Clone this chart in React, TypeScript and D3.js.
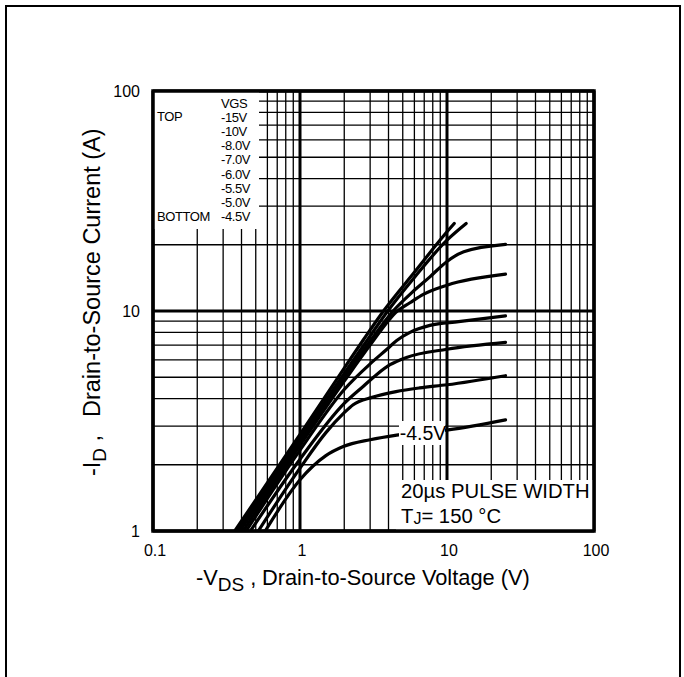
import { useEffect, useRef } from "react";
import * as d3 from "d3";

// -VDS (V), -ID (A) pairs
const curve15V: [number, number][] = [[0.36, 1], [1, 2.75], [2, 5.5], [2.7, 7.4], [3.7, 10], [6, 15], [10, 22.9], [11.2, 25]];
const curve10V: [number, number][] = [[0.375, 1], [1, 2.65], [2, 5.2], [3, 7.7], [4, 10.1], [6, 14.2], [10, 21], [13.5, 25]];
const curve8V: [number, number][] = [[0.39, 1], [1, 2.55], [2, 5.0], [3, 7.3], [4.3, 10], [5.9, 12.3], [7.65, 14.3], [10, 16.8], [13, 18.6], [25, 20.1]];
const curve7V: [number, number][] = [[0.41, 1], [1, 2.45], [2, 4.8], [3, 7.0], [4.6, 10], [5.6, 10.9], [6.9, 11.9], [10, 13.1], [25, 14.7]];
const curve6V: [number, number][] = [[0.43, 1], [1, 2.33], [2, 4.4], [3, 5.75], [3.9, 6.7], [4.55, 7.35], [5.6, 8.0], [7.65, 8.6], [12, 8.95], [25, 9.5]];
const curve55V: [number, number][] = [[0.46, 1], [1, 2.12], [2, 3.8], [2.7, 4.55], [3.33, 5.15], [4.1, 5.7], [5.3, 6.15], [10, 6.7], [25, 7.2]];
const curve5V: [number, number][] = [[0.52, 1], [1, 1.93], [1.5, 2.8], [2, 3.45], [2.3, 3.75], [3.1, 4.05], [4.5, 4.3], [6.5, 4.47], [10, 4.62], [25, 5.08]];
const curve45V: [number, number][] = [[0.58, 1], [1, 1.71], [1.5, 2.2], [1.97, 2.42], [3, 2.6], [4.55, 2.73], [10.2, 2.88], [25, 3.2]];

const curves = [curve15V, curve10V, curve8V, curve7V, curve6V, curve55V, curve5V, curve45V];

const vgsLabels = ["-15V", "-10V", "-8.0V", "-7.0V", "-6.0V", "-5.5V", "-5.0V", "-4.5V"];
const xTicks = [0.1, 1, 10, 100];
const xTickLabels = ["0.1", "1", "10", "100"];
const yTicks = [1, 10, 100];
const yTickLabels = ["1", "10", "100"];

const FONT = "'Liberation Sans', Arial, Helvetica, sans-serif";

export default function App() {
  const ref = useRef<SVGSVGElement>(null);

  useEffect(() => {
    if (!ref.current) return;
    const svg = d3.select(ref.current);
    svg.selectAll("*").remove();

    const left = 153, right = 594, top = 91, bottom = 531;
    const x = d3.scaleLog().domain([0.1, 100]).range([left, right]);
    const y = d3.scaleLog().domain([1, 100]).range([bottom, top]);

    // outer page border
    svg.append("rect")
      .attr("x", 6).attr("y", 6).attr("width", 674).attr("height", 720)
      .attr("fill", "none").attr("stroke", "#000").attr("stroke-width", 2);

    const isDecade = (v: number) => Math.abs(Math.log10(v) - Math.round(Math.log10(v))) < 1e-6;

    const grid = svg.append("g");
    x.ticks().forEach((v) => {
      grid.append("line")
        .attr("x1", x(v)).attr("x2", x(v)).attr("y1", top).attr("y2", bottom)
        .attr("stroke", "#000").attr("stroke-width", isDecade(v) ? 3 : 1.3);
    });
    y.ticks().forEach((v) => {
      grid.append("line")
        .attr("x1", left).attr("x2", right).attr("y1", y(v)).attr("y2", y(v))
        .attr("stroke", "#000").attr("stroke-width", isDecade(v) ? 3 : 1.3);
    });

    svg.append("clipPath").attr("id", "plot-clip")
      .append("rect").attr("x", left).attr("y", top)
      .attr("width", right - left).attr("height", bottom - top);

    const line = d3.line<[number, number]>()
      .x((d) => x(d[0]))
      .y((d) => y(d[1]))
      .curve(d3.curveMonotoneX);

    svg.append("g").attr("clip-path", "url(#plot-clip)")
      .selectAll("path")
      .data(curves)
      .enter()
      .append("path")
      .attr("d", (d) => line(d) || "")
      .attr("fill", "none")
      .attr("stroke", "#000")
      .attr("stroke-width", 3.2)
      .attr("stroke-linecap", "round")
      .attr("stroke-linejoin", "round");

    // white boxes over the grid
    svg.append("rect").attr("x", left).attr("y", top).attr("width", 106).attr("height", 138).attr("fill", "#fff");
    svg.append("rect").attr("x", 399).attr("y", 421).attr("width", 46).attr("height", 24).attr("fill", "#fff");
    svg.append("rect").attr("x", 396).attr("y", 480).attr("width", right - 396).attr("height", bottom - 480).attr("fill", "#fff");

    // frame
    svg.append("rect")
      .attr("x", left).attr("y", top).attr("width", right - left).attr("height", bottom - top)
      .attr("fill", "none").attr("stroke", "#000").attr("stroke-width", 3.5);

    // legend
    const legend = svg.append("g").attr("font-family", FONT).attr("font-size", 13)
      .attr("letter-spacing", -0.4).attr("fill", "#000");
    legend.append("text").attr("x", 221).attr("y", 108).text("VGS");
    vgsLabels.forEach((lab, i) => {
      legend.append("text").attr("x", 221).attr("y", 122.3 + i * 14.05).text(lab);
    });
    legend.append("text").attr("x", 157).attr("y", 121).text("TOP");
    legend.append("text").attr("x", 157).attr("y", 221).text("BOTTOM");

    // curve label
    svg.append("text").attr("x", 423).attr("y", 440).attr("text-anchor", "middle")
      .attr("font-family", FONT).attr("font-size", 19.5).text("-4.5V");

    // conditions
    const cond = svg.append("g").attr("font-family", FONT).attr("font-size", 20.3);
    cond.append("text").attr("x", 401).attr("y", 498).text("20µs PULSE WIDTH");
    const tj = cond.append("text").attr("x", 401).attr("y", 522.5);
    tj.append("tspan").text("T");
    tj.append("tspan").attr("font-size", 16).attr("dy", 1.5).text("J");
    tj.append("tspan").attr("dy", -1.5).text("= 150 °C");

    // tick labels
    const ticks = svg.append("g").attr("font-family", FONT).attr("font-size", 16);
    xTicks.forEach((v, i) => {
      ticks.append("text").attr("x", x(v) + 2).attr("y", 556).attr("text-anchor", "middle").text(xTickLabels[i]);
    });
    yTicks.forEach((v, i) => {
      ticks.append("text").attr("x", 140).attr("y", y(v) + 6).attr("text-anchor", "end").text(yTickLabels[i]);
    });

    // axis titles
    const xt = svg.append("g").attr("font-family", FONT).attr("font-size", 21.8);
    const xPre = xt.append("text").attr("x", 196).attr("y", 585);
    xPre.append("tspan").text("-V");
    xPre.append("tspan").attr("font-size", 19).attr("dy", 6).text("DS");
    xPre.append("tspan").attr("dy", -6).text(" ,");
    xt.append("text").attr("x", 262).attr("y", 585).text("Drain-to-Source Voltage (V)");

    const yt = svg.append("g").attr("font-family", FONT).attr("font-size", 23.5)
      .attr("transform", "translate(100,0) rotate(-90)");
    const yPre = yt.append("text").attr("x", -476).attr("y", 0);
    yPre.append("tspan").text("-I");
    yPre.append("tspan").attr("font-size", 19).attr("dy", 6).text("D");
    yPre.append("tspan").attr("dy", -6).text(" ,");
    yt.append("text").attr("x", -417).attr("y", 0).text("Drain-to-Source Current (A)");
  }, []);

  return (
    <svg
      ref={ref}
      width={684}
      height={677}
      style={{ position: "absolute", left: 0, top: 0, background: "#fff" }}
    />
  );
}
